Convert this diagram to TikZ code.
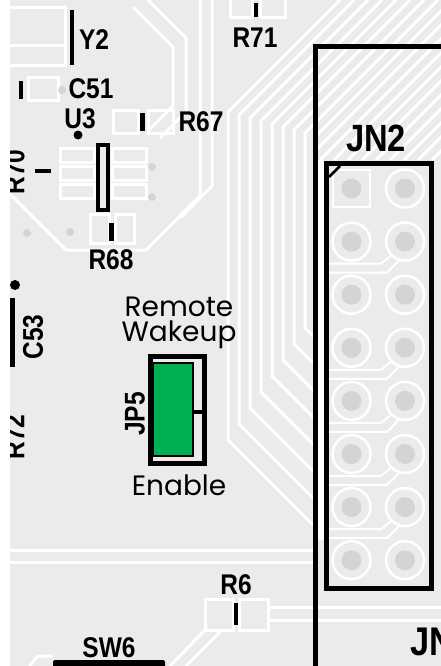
\documentclass[tikz,border=0pt]{standalone}
\usepackage{fontspec}
\newfontfamily\silkfont[FakeStretch=0.86]{Liberation Sans Bold}
\newfontfamily\notefont{Poppins}
\definecolor{board}{RGB}{235,235,235}
\definecolor{padgray}{RGB}{212,212,212}
\definecolor{jumper}{RGB}{0,176,80}
\tikzset{
  trace/.style={white, line width=3pt},
  silk/.style={black, line width=4.5pt},
  refdes/.style={font=\silkfont\fontsize{28.5}{30}\selectfont, inner sep=0pt},
  notelabel/.style={font=\notefont\fontsize{28}{24.5}\selectfont, inner sep=0pt},
}
\begin{document}
\begin{tikzpicture}[x=1pt,y=-1pt]
\useasboundingbox (0,0) rectangle (441,666);
\clip (0,0) rectangle (441,666);
\fill[board] (0,0) rectangle (441,666);

% copper clearances
\draw[trace] (8,8) rectangle (65,66);
\draw[trace] (8,46) -- (65,46);
\draw[trace] (28,78) rectangle (58,101);
\draw[trace] (230,-2) rectangle (252,18);
\draw[trace] (260,-2) rectangle (285,18);
\draw[trace] (113,111) rectangle (138,133);
\draw[trace] (148,111) rectangle (173,133);
\draw[trace] (133,7) -- (173,47) -- (173,106) -- (150,129);
\draw[trace] (148,0) -- (186,38) -- (186,112) -- (160,138);
\draw[trace] (200,0) -- (200,196) -- (146,250) -- (66,250) -- (0,184);
\draw[trace] (212,0) -- (212,186) -- (180,218);
\foreach \yy in {148,166,184}{
  \draw[trace] (60,\yy) rectangle (94,\yy+14);
  \draw[trace] (112,\yy) rectangle (146,\yy+14);
}
\draw[trace] (90,214) rectangle (109,243);
\draw[trace] (115,214) rectangle (134,243);
\foreach \i in {0,...,7}{
  \pgfmathsetmacro\xx{228+11*\i}
  \pgfmathsetmacro\yt{112+3*\i}
  \pgfmathsetmacro\yb{440-16*\i}
  \draw[trace] (\xx+\yt,0) -- (\xx,\yt) -- (\xx,\yb) -- (316,\yb+316-\xx);
}
\begin{scope}
  \clip (318,0) rectangle (441,160);
  \foreach \s in {452,466,...,620}
    \draw[trace] (\s-160,160) -- (\s,0);
\end{scope}
\fill[white] (318,160) rectangle (324,540);
\draw[trace] (8,550) -- (316,550);
\draw[trace] (8,562) -- (316,562);
\draw[trace] (205,599) rectangle (233,630);
\draw[trace] (239,599) rectangle (268,630);
\draw[trace] (268,607) -- (441,607);
\draw[trace] (268,620) -- (441,620);
\draw[trace] (207,628) -- (170,666);
\draw[trace] (220,632) -- (186,666);
\draw[trace] (27,668) to[out=-90,in=180] (40,656) -- (53,656);

\foreach \p in {(62,90),(152,167),(152,197),(27,233),(70,232)}
  \fill[padgray] \p circle (4pt);

% JN2 header pads
\foreach \r in {0,...,7}{
  \pgfmathsetmacro\yy{188.5+53.1*\r}
  \ifnum\r=0
    \draw[trace, line width=2.5pt] (333,170) rectangle (370,207);
  \else
    \draw[trace, line width=2.5pt] (351.5,\yy) circle (19pt);
  \fi
  \draw[trace, line width=2.5pt] (405,\yy) circle (19pt);
  \fill[padgray] (351.5,\yy) circle (10pt);
  \fill[padgray] (405,\yy) circle (10pt);
}
\foreach \r in {1,3,4,5,6}{
  \pgfmathsetmacro\yy{188.5+53.1*\r}
  \draw[trace, line width=2pt] (391,\yy+14) -- (381,\yy+22) -- (329,\yy+22);
  \draw[trace, line width=2pt] (399,\yy+19) -- (387,\yy+31) -- (329,\yy+31);
}

% silkscreen
\draw[silk, line width=4pt] (72,10) -- (72,65);
\draw[silk] (256,3) -- (256,17);
\draw[silk] (21,81) -- (21,99);
\draw[silk] (142.5,113) -- (142.5,131);
\fill (78,135) circle (4.5pt);
\draw[silk] (35,171) -- (51,171);
\draw[silk, line width=4pt] (98,145) rectangle (108,210);
\draw[silk] (111.5,223) -- (111.5,241);
\fill (15,285) circle (5pt);
\draw[silk] (12.5,298) -- (12.5,367);
\draw[silk] (236,603) -- (236,625);
\fill[rounded corners=2pt] (53,660) rectangle (165,670);

\draw[silk, line width=5pt] (150.5,356.5) rectangle (204.5,463);
\filldraw[fill=jumper, line width=1.5pt] (153,363) rectangle (193,456);
\draw[silk, line width=4pt] (193,412) -- (204.5,412);

\draw[silk, line width=5pt] (315.5,700) -- (315.5,47) -- (460,47);
\draw[silk, line width=5pt] (326.5,163.5) rectangle (431.5,588);
\draw[line width=2.5pt] (329,177) -- (340,166);

\node[refdes] (y2) at (94,40) {Y2};
\node[refdes] (r71) at (255,38) {R71};
\node[refdes] (c51) at (91,89) {C51};
\node[refdes] (u3) at (80,119) {U3};
\node[refdes] (r67) at (201,122) {R67};
\node[refdes, rotate=90] (r70) at (14.5,172) {R70};
\node[refdes] (r68) at (111,260) {R68};
\node[refdes, rotate=90] (c53) at (33,337) {C53};
\node[refdes, rotate=90] (r72) at (14.5,437) {R72};
\node[refdes, rotate=90] (jp5) at (135,414) {JP5};
\node[refdes] (r6) at (236,585) {R6};
\node[refdes] (sw6) at (109,648) {SW6};
\node[refdes, font=\silkfont\fontsize{38}{40}\selectfont] (jn2) at (376,138) {JN2};
\node[refdes, font=\silkfont\fontsize{40}{42}\selectfont, anchor=west] (jn3) at (410,642) {JN};

\node[notelabel, align=center, anchor=north] (remote) at (179,297) {Remote\\Wakeup};
\node[notelabel, anchor=base] (enable) at (179,495) {Enable};

\fill[white] (0,0) rectangle (10,666);
\end{tikzpicture}
\end{document}
